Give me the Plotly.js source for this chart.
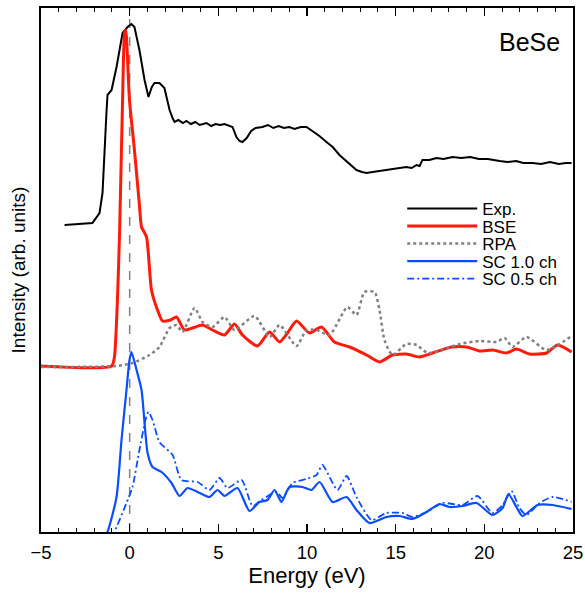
<!DOCTYPE html>
<html><head><meta charset="utf-8">
<script src="https://cdn.plot.ly/plotly-3.0.1.min.js"></script>
<style>html,body{margin:0;padding:0;background:#fff}#chart{width:585px;height:596px}</style>
</head><body><div id="chart"></div>
<script>
// Energy (eV) / intensity (arb. units, vertically offset curves)
const expE = [-3.67,-2.10,-1.70,-1.53,-1.31,-1.25,-1.02,-0.74,-0.40,-0.12,0.10,0.27,0.55,0.84,1.06,1.25,1.40,1.68,1.96,2.25,2.42,2.53,2.75,3.00,3.20,3.45,3.70,3.95,4.33,4.60,4.85,5.10,5.35,5.63,5.80,6.02,6.20,6.36,6.60,6.85,7.10,7.49,7.80,8.10,8.40,8.70,9.00,9.30,9.65,9.97,10.30,10.70,11.10,11.45,11.83,12.20,12.50,12.79,13.10,13.36,13.70,14.10,14.50,14.90,15.22,15.60,15.90,16.18,16.35,16.51,16.90,17.30,17.70,18.21,18.70,19.20,19.70,20.20,20.86,21.30,21.80,22.20,22.72,23.20,23.70,24.20,24.60,24.92];
const expI = [307,309,319,339,419,437,442,465,499,505,508,505,482,452,435,445,449,449,444,422,414,410,412,409,411,408,410,407,409,406,408,407,408,406,405,395,391,390,394,401,404,405,407,404,406,404,405,403,405,405,401,396,390,385,377,371,366,362,360,359,360,361,362,363,364,365,364,367,366,372,372,374,373,375,374,375,373,373,371,370,371,369,369,368,370,368,369,369];

const bseE = [-5,-1.02,-0.86,-0.69,-0.57,-0.40,-0.29,-0.23,-0.18,-0.01,0.27,0.55,0.67,0.95,1.23,1.57,1.85,2.30,2.64,3.09,3.54,4.11,4.67,5.35,5.91,6.36,7.21,7.89,8.45,8.90,9.41,10.14,10.82,11.55,12.40,13.36,14.09,14.82,15.61,16.34,17.08,18.15,19.00,19.73,20.46,21.25,21.81,22.55,23.51,24.13,24.92];
const bseI = [166,166,175,232,299,432,499,502,495,432,382,327,305,295,242,222,211,212,215,202,204,207,202,197,208,197,186,200,190,199,211,199,205,190,185,177,170,177,178,175,179,185,185,181,182,179,183,178,179,187,180];

const rpaE = [-5,-0.74,0.16,1.12,1.68,2.25,2.64,2.98,3.66,4.11,4.67,5.35,5.91,7.04,7.89,8.45,9.41,9.97,10.54,11.27,12.28,12.79,13.24,13.81,14.09,14.37,14.82,15.61,16.18,16.80,17.64,18.60,19.73,20.69,21.14,21.59,22.38,23.51,24.92];
const rpaI = [165,166,169,177,185,204,207,200,224,210,205,215,202,216,195,207,186,202,202,197,225,217,240,240,222,192,177,188,187,179,182,188,191,190,194,185,195,182,196];

const sc10E = [-1.45,-1.25,-0.74,-0.46,-0.18,-0.01,0.10,0.39,0.67,0.84,1.01,1.29,1.80,2.36,2.81,3.26,3.83,4.50,4.95,5.35,6.08,6.76,7.32,7.77,8.17,8.56,9.01,9.75,10.25,10.71,11.44,12.23,12.79,13.52,14.48,15.22,15.95,16.74,17.47,18.04,18.77,19.56,20.46,21.03,21.36,21.81,22.15,23.00,23.85,24.92];
const sc10I = [-6,0,35,92,142,172,180,162,142,109,79,65,60,49,36,44,40,35,42,36,44,21,30,32,42,30,45,45,42,50,30,35,22,9,15,16,13,20,28,25,26,29,17,24,38,25,16,27,27,23];

const sc05E = [-1.05,-0.86,-0.18,0.16,0.55,0.89,1.06,1.29,1.68,2.42,2.92,3.83,4.50,5.07,5.52,6.31,6.93,7.43,8.28,8.62,9.18,9.97,10.54,10.87,11.72,12.23,12.79,13.64,14.48,15.39,15.95,16.74,17.64,18.77,19.62,20.46,21.03,21.53,21.98,22.38,23.11,23.85,24.92];
const sc05I = [-6,0,29,45,82,112,120,112,90,77,52,50,42,54,44,52,26,32,40,34,49,53,57,67,42,56,35,12,19,19,15,20,29,27,36,19,27,41,24,17,29,35,30];

const seriesNames = ['Exp.','BSE','RPA','SC 1.0 ch','SC 0.5 ch'];
const xTickVals = [-5,0,5,10,15,20,25];

const FONT = 'Liberation Sans, Arial, Helvetica, sans-serif';
const legendIds = ['legend','legend2','legend3','legend4','legend5'];
const legendRowY = [0.6164,0.5830,0.5496,0.5162,0.4828];

const traces = [
  {x: expE, y: expI, name: seriesNames[0], mode:'lines', line:{color:'#000000', width:2}},
  {x: bseE, y: bseI, name: seriesNames[1], mode:'lines', line:{color:'#ff1a0a', width:3, shape:'spline', smoothing:0.6}},
  {x: rpaE, y: rpaI, name: seriesNames[2], mode:'lines', line:{color:'#808080', width:2.5, dash:'dot', shape:'spline', smoothing:0.6}},
  {x: sc10E, y: sc10I, name: seriesNames[3], mode:'lines', line:{color:'#0a4cff', width:2.2, shape:'spline', smoothing:0.6}},
  {x: sc05E, y: sc05I, name: seriesNames[4], mode:'lines', line:{color:'#0a4cff', width:1.8, dash:'7px,3px,2px,3px', shape:'spline', smoothing:0.6}}
];
traces.forEach((t,i)=>{ t.legend = legendIds[i]; });

const layout = {
  width: 585, height: 596,
  margin: {l:41, r:12, t:8, b:64},
  paper_bgcolor:'#fff', plot_bgcolor:'#fff',
  font: {family: FONT, size: 18, color:'#000'},
  showlegend: true,
  xaxis: {range:[-5,25], tickvals: xTickVals, ticks:'inside', ticklen:8, tickwidth:1.5, tickcolor:'#000',
          showline:true, linewidth:2, linecolor:'#000', mirror:'allticks', showgrid:false, zeroline:false,
          ticklabelstandoff:3,
          tickfont:{family:FONT, size:18.5}, title:{text:'Energy (eV)', font:{family:FONT, size:22}, standoff:4},
          minor:{dtick:1, tick0:0, ticks:'inside', ticklen:4, tickcolor:'#000', tickwidth:1, showgrid:false}},
  yaxis: {range:[0,524], showticklabels:false, ticks:'', showline:true, linewidth:2, linecolor:'#000', mirror:true,
          showgrid:false, zeroline:false, title:{text:'Intensity (arb. units)', font:{family:FONT, size:19}, standoff:8}},
  shapes: [{type:'line', xref:'x', yref:'paper', x0:0, x1:0, y0:0, y1:1, line:{color:'#808080', width:1.5, dash:'dash'}, layer:'below'}],
  annotations: [{text:'BeSe', xref:'paper', yref:'paper', x:(562-41)/532, y:(532-42)/524, xanchor:'right', yanchor:'middle', showarrow:false, font:{family:FONT, size:25}}]
};
legendIds.forEach((id,i)=>{
  layout[id] = {x:0.679, y:legendRowY[i], xanchor:'left', yanchor:'middle', bgcolor:'rgba(0,0,0,0)',
                font:{family:FONT, size:17, color:'#000'}, itemwidth:70, borderwidth:0};
});
Plotly.newPlot('chart', traces, layout, {displayModeBar:false, staticPlot:true});
</script></body></html>
